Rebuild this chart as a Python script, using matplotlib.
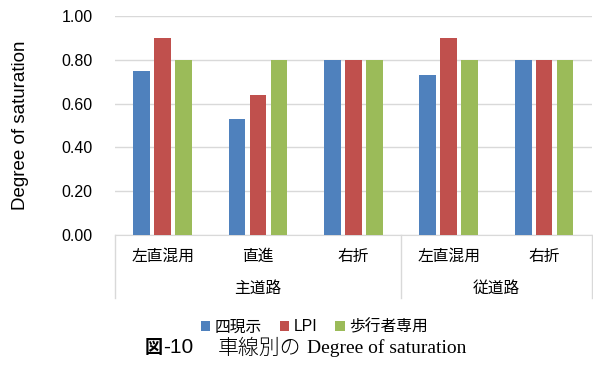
import matplotlib
matplotlib.use("Agg")
import matplotlib.pyplot as plt
import matplotlib.transforms as mtransforms
import numpy as np

plt.rcParams['font.family'] = ['Liberation Sans', 'Noto Sans CJK JP']

# lanes (lower level) and road groups (upper level)
lanes = ['左直混用', '直進', '右折', '左直混用', '右折']
groups = ['主道路', '従道路']
group_spans = [(0, 2), (3, 4)]

series = ['四現示', 'LPI', '歩行者専用']
four_phase = [0.75, 0.53, 0.80, 0.73, 0.80]
lpi = [0.90, 0.64, 0.80, 0.90, 0.80]
ped_only = [0.80, 0.80, 0.80, 0.80, 0.80]
colors = ['#4F81BD', '#C0504D', '#9BBB59']

fig = plt.figure(figsize=(5.93, 3.65), dpi=100)
ax = fig.add_axes([0.194, 0.356, 0.804, 0.600])

x = np.arange(len(lanes))
width = 0.175
step = 0.22
for i, (vals, col, name) in enumerate(zip([four_phase, lpi, ped_only], colors, series)):
    ax.bar(x + (i - 1) * step, vals, width, color=col, label=name, zorder=3)

ax.set_xlim(-0.5, len(lanes) - 0.5)
ax.set_ylim(0, 1.0)
ax.set_yticks(np.arange(0, 1.01, 0.2))
ax.set_yticklabels(['%.2f' % v for v in np.arange(0, 1.01, 0.2)], fontsize=11.5)
ax.yaxis.grid(True, color='#D9D9D9', linewidth=1)
ax.set_axisbelow(True)
ax.tick_params(axis='y', length=0, pad=16)
for s in ['top', 'right', 'left']:
    ax.spines[s].set_visible(False)
ax.spines['bottom'].set_color('#D9D9D9')

ax.set_xticks(x)
ax.set_xticklabels(lanes, fontsize=11.3)
ax.tick_params(axis='x', length=0, pad=10)

ax.set_ylabel('Degree of saturation', fontsize=13.5)
ax.yaxis.set_label_coords(-0.18, 0.5)

# group labels and separators below the axis
trans = mtransforms.blended_transform_factory(ax.transData, ax.transAxes)
for name, (a, b) in zip(groups, group_spans):
    ax.text((a + b) / 2, -0.245, name, transform=trans, ha='center', va='center', fontsize=11.3)
for xs in [-0.5, 2.5, 4.5]:
    ax.plot([xs, xs], [0, -0.288], transform=trans, color='#D9D9D9', lw=1, clip_on=False)

fig.legend(loc='center', bbox_to_anchor=(0.53, 0.105), ncol=3, frameon=False,
           fontsize=11.3, handlelength=0.62, handleheight=0.62, handletextpad=0.3,
           columnspacing=1.1)

# caption
fig.text(0.2445, 0.047, '図', fontsize=13, fontweight='bold', va='center', ha='left',
         family=['Noto Sans CJK JP'])
fig.text(0.275, 0.047, '-10', fontsize=15, va='center', ha='left',
         family=['Liberation Sans'])
fig.text(0.367, 0.047, '車線別の', fontsize=15, va='center', ha='left',
         family=['Noto Sans CJK JP'], fontweight='light')
fig.text(0.517, 0.047, 'Degree of saturation', fontsize=14, va='center', ha='left',
         family=['Liberation Serif'])

fig.savefig('out.png', dpi=100)
